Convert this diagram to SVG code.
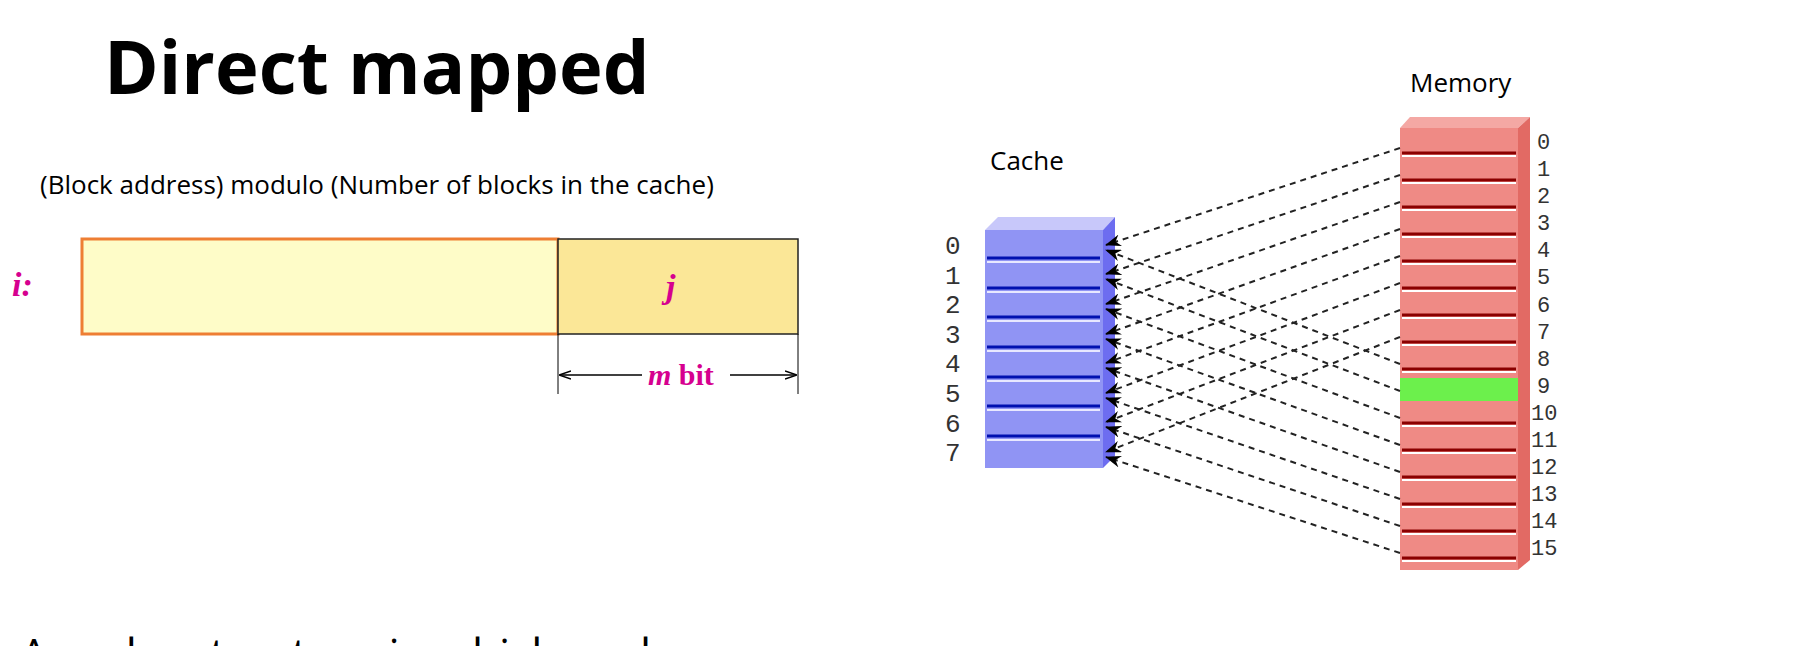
<svg xmlns="http://www.w3.org/2000/svg" width="1794" height="646" viewBox="0 0 1794 646">
<defs>
<style>
.t{font-family:"Open Sans","Noto Sans",sans-serif;fill:#000}
.mono{font-family:"Liberation Mono","DejaVu Sans Mono",monospace;font-size:26px;fill:#333}
.mag{font-family:"Liberation Serif",serif;font-weight:bold;fill:#d6008f}
.c{stroke:#222;stroke-width:2;stroke-dasharray:6,5;fill:none;marker-end:url(#ah)}
</style>
<marker id="ah" markerWidth="16" markerHeight="12" refX="15" refY="6" orient="auto" markerUnits="userSpaceOnUse"><path d="M0,0 L16,6 L0,12 L5,6 z" fill="#000"/></marker>
<marker id="da" markerWidth="12" markerHeight="10" refX="11" refY="5" orient="auto-start-reverse" markerUnits="userSpaceOnUse"><path d="M0,1 L12,5 L0,9" fill="none" stroke="#000" stroke-width="1.5"/></marker>
</defs>
<rect width="1794" height="646" fill="#fff"/>
<text class="t" x="104" y="94" font-size="74" font-weight="bold">Direct mapped</text>
<text class="t" x="40" y="194" font-size="26">(Block address) modulo (Number of blocks in the cache)</text>
<g id="addr">
<rect x="82" y="239" width="476" height="95" fill="#fefcc8" stroke="#ee7e33" stroke-width="3"/>
<rect x="558" y="239" width="240" height="95" fill="#fbe797" stroke="#222" stroke-width="1.5"/>
<text class="mag" x="12" y="296" font-size="34" font-style="italic">i:</text>
<text class="mag" x="666" y="298" font-size="34" font-style="italic">j</text>
<line x1="558" y1="334" x2="558" y2="394" stroke="#000" stroke-width="1"/>
<line x1="798" y1="334" x2="798" y2="394" stroke="#000" stroke-width="1"/>
<line x1="560" y1="375" x2="642" y2="375" stroke="#000" stroke-width="1.5" marker-start="url(#da)"/>
<line x1="730" y1="375" x2="796" y2="375" stroke="#000" stroke-width="1.5" marker-end="url(#da)"/>
<text class="mag" x="648" y="385" font-size="30"><tspan font-style="italic">m</tspan> bit</text>
</g>
<g id="cache">
<text class="t" x="990" y="170" font-size="26">Cache</text>
<polygon points="985,230 998,217 1115,217 1103,230" fill="#c8c8fa"/>
<polygon points="1103,230 1115,217 1115,456 1103,468" fill="#6d6df0"/>
<rect x="985" y="230" width="118" height="238" fill="#9094f4"/>
<g stroke="#0010b0" stroke-width="3">
<line x1="987" y1="258" x2="1100" y2="258"/><line x1="987" y1="288" x2="1100" y2="288"/><line x1="987" y1="317" x2="1100" y2="317"/><line x1="987" y1="347" x2="1100" y2="347"/><line x1="987" y1="377" x2="1100" y2="377"/><line x1="987" y1="406" x2="1100" y2="406"/><line x1="987" y1="436" x2="1100" y2="436"/>
</g>
<g stroke="#e8e8ff" stroke-width="2">
<line x1="987" y1="262" x2="1100" y2="262"/><line x1="987" y1="292" x2="1100" y2="292"/><line x1="987" y1="321" x2="1100" y2="321"/><line x1="987" y1="351" x2="1100" y2="351"/><line x1="987" y1="381" x2="1100" y2="381"/><line x1="987" y1="410" x2="1100" y2="410"/><line x1="987" y1="440" x2="1100" y2="440"/>
</g>
<g class="mono"><text x="945" y="254">0</text><text x="945" y="284">1</text><text x="945" y="313">2</text><text x="945" y="343">3</text><text x="945" y="372">4</text><text x="945" y="402">5</text><text x="945" y="432">6</text><text x="945" y="461">7</text></g>
</g>
<g id="memory">
<text class="t" x="1410" y="92" font-size="26">Memory</text>
<polygon points="1400,128 1410,117 1530,117 1518,128" fill="#f4a8a4"/>
<polygon points="1518,128 1530,117 1530,560 1518,570" fill="#e26a64"/>
<rect x="1400" y="128" width="118" height="442" fill="#ef8a85"/>
<rect x="1400" y="378" width="118" height="23" fill="#6cf04c"/>
<g stroke="#8a0000" stroke-width="3">
<line x1="1402" y1="153" x2="1516" y2="153"/><line x1="1402" y1="180" x2="1516" y2="180"/><line x1="1402" y1="207" x2="1516" y2="207"/><line x1="1402" y1="234" x2="1516" y2="234"/><line x1="1402" y1="261" x2="1516" y2="261"/><line x1="1402" y1="288" x2="1516" y2="288"/><line x1="1402" y1="315" x2="1516" y2="315"/><line x1="1402" y1="342" x2="1516" y2="342"/><line x1="1402" y1="369" x2="1516" y2="369"/><line x1="1402" y1="423" x2="1516" y2="423"/><line x1="1402" y1="450" x2="1516" y2="450"/><line x1="1402" y1="477" x2="1516" y2="477"/><line x1="1402" y1="504" x2="1516" y2="504"/><line x1="1402" y1="531" x2="1516" y2="531"/><line x1="1402" y1="558" x2="1516" y2="558"/>
</g>
<g stroke="#fff" stroke-width="2">
<line x1="1402" y1="156" x2="1516" y2="156"/><line x1="1402" y1="183" x2="1516" y2="183"/><line x1="1402" y1="210" x2="1516" y2="210"/><line x1="1402" y1="237" x2="1516" y2="237"/><line x1="1402" y1="264" x2="1516" y2="264"/><line x1="1402" y1="291" x2="1516" y2="291"/><line x1="1402" y1="318" x2="1516" y2="318"/><line x1="1402" y1="345" x2="1516" y2="345"/><line x1="1402" y1="372" x2="1516" y2="372"/><line x1="1402" y1="426" x2="1516" y2="426"/><line x1="1402" y1="453" x2="1516" y2="453"/><line x1="1402" y1="480" x2="1516" y2="480"/><line x1="1402" y1="507" x2="1516" y2="507"/><line x1="1402" y1="534" x2="1516" y2="534"/><line x1="1402" y1="561" x2="1516" y2="561"/>
</g>
<g class="mono" font-size="22" style="font-size:22px"><text x="1537" y="149">0</text><text x="1537" y="176">1</text><text x="1537" y="203">2</text><text x="1537" y="230">3</text><text x="1537" y="257">4</text><text x="1537" y="284">5</text><text x="1537" y="312">6</text><text x="1537" y="339">7</text><text x="1537" y="366">8</text><text x="1537" y="393">9</text><text x="1531" y="420">10</text><text x="1531" y="447">11</text><text x="1531" y="474">12</text><text x="1531" y="501">13</text><text x="1531" y="528">14</text><text x="1531" y="555">15</text></g>
</g>
<g id="connectors">
<path class="c" d="M1400,148 L1106,245"/><path class="c" d="M1400,175 L1106,274"/><path class="c" d="M1400,202 L1106,304"/><path class="c" d="M1400,229 L1106,334"/><path class="c" d="M1400,256 L1106,363"/><path class="c" d="M1400,283 L1106,393"/><path class="c" d="M1400,310 L1106,422"/><path class="c" d="M1400,337 L1106,452"/>
<path class="c" d="M1400,364 L1106,250"/><path class="c" d="M1400,391 L1106,279"/><path class="c" d="M1400,418 L1106,309"/><path class="c" d="M1400,445 L1106,339"/><path class="c" d="M1400,472 L1106,368"/><path class="c" d="M1400,499 L1106,398"/><path class="c" d="M1400,526 L1106,427"/><path class="c" d="M1400,553 L1106,457"/>
</g>
<text class="t" x="20" y="670" font-size="44">A cache structure in which each</text>
</svg>
